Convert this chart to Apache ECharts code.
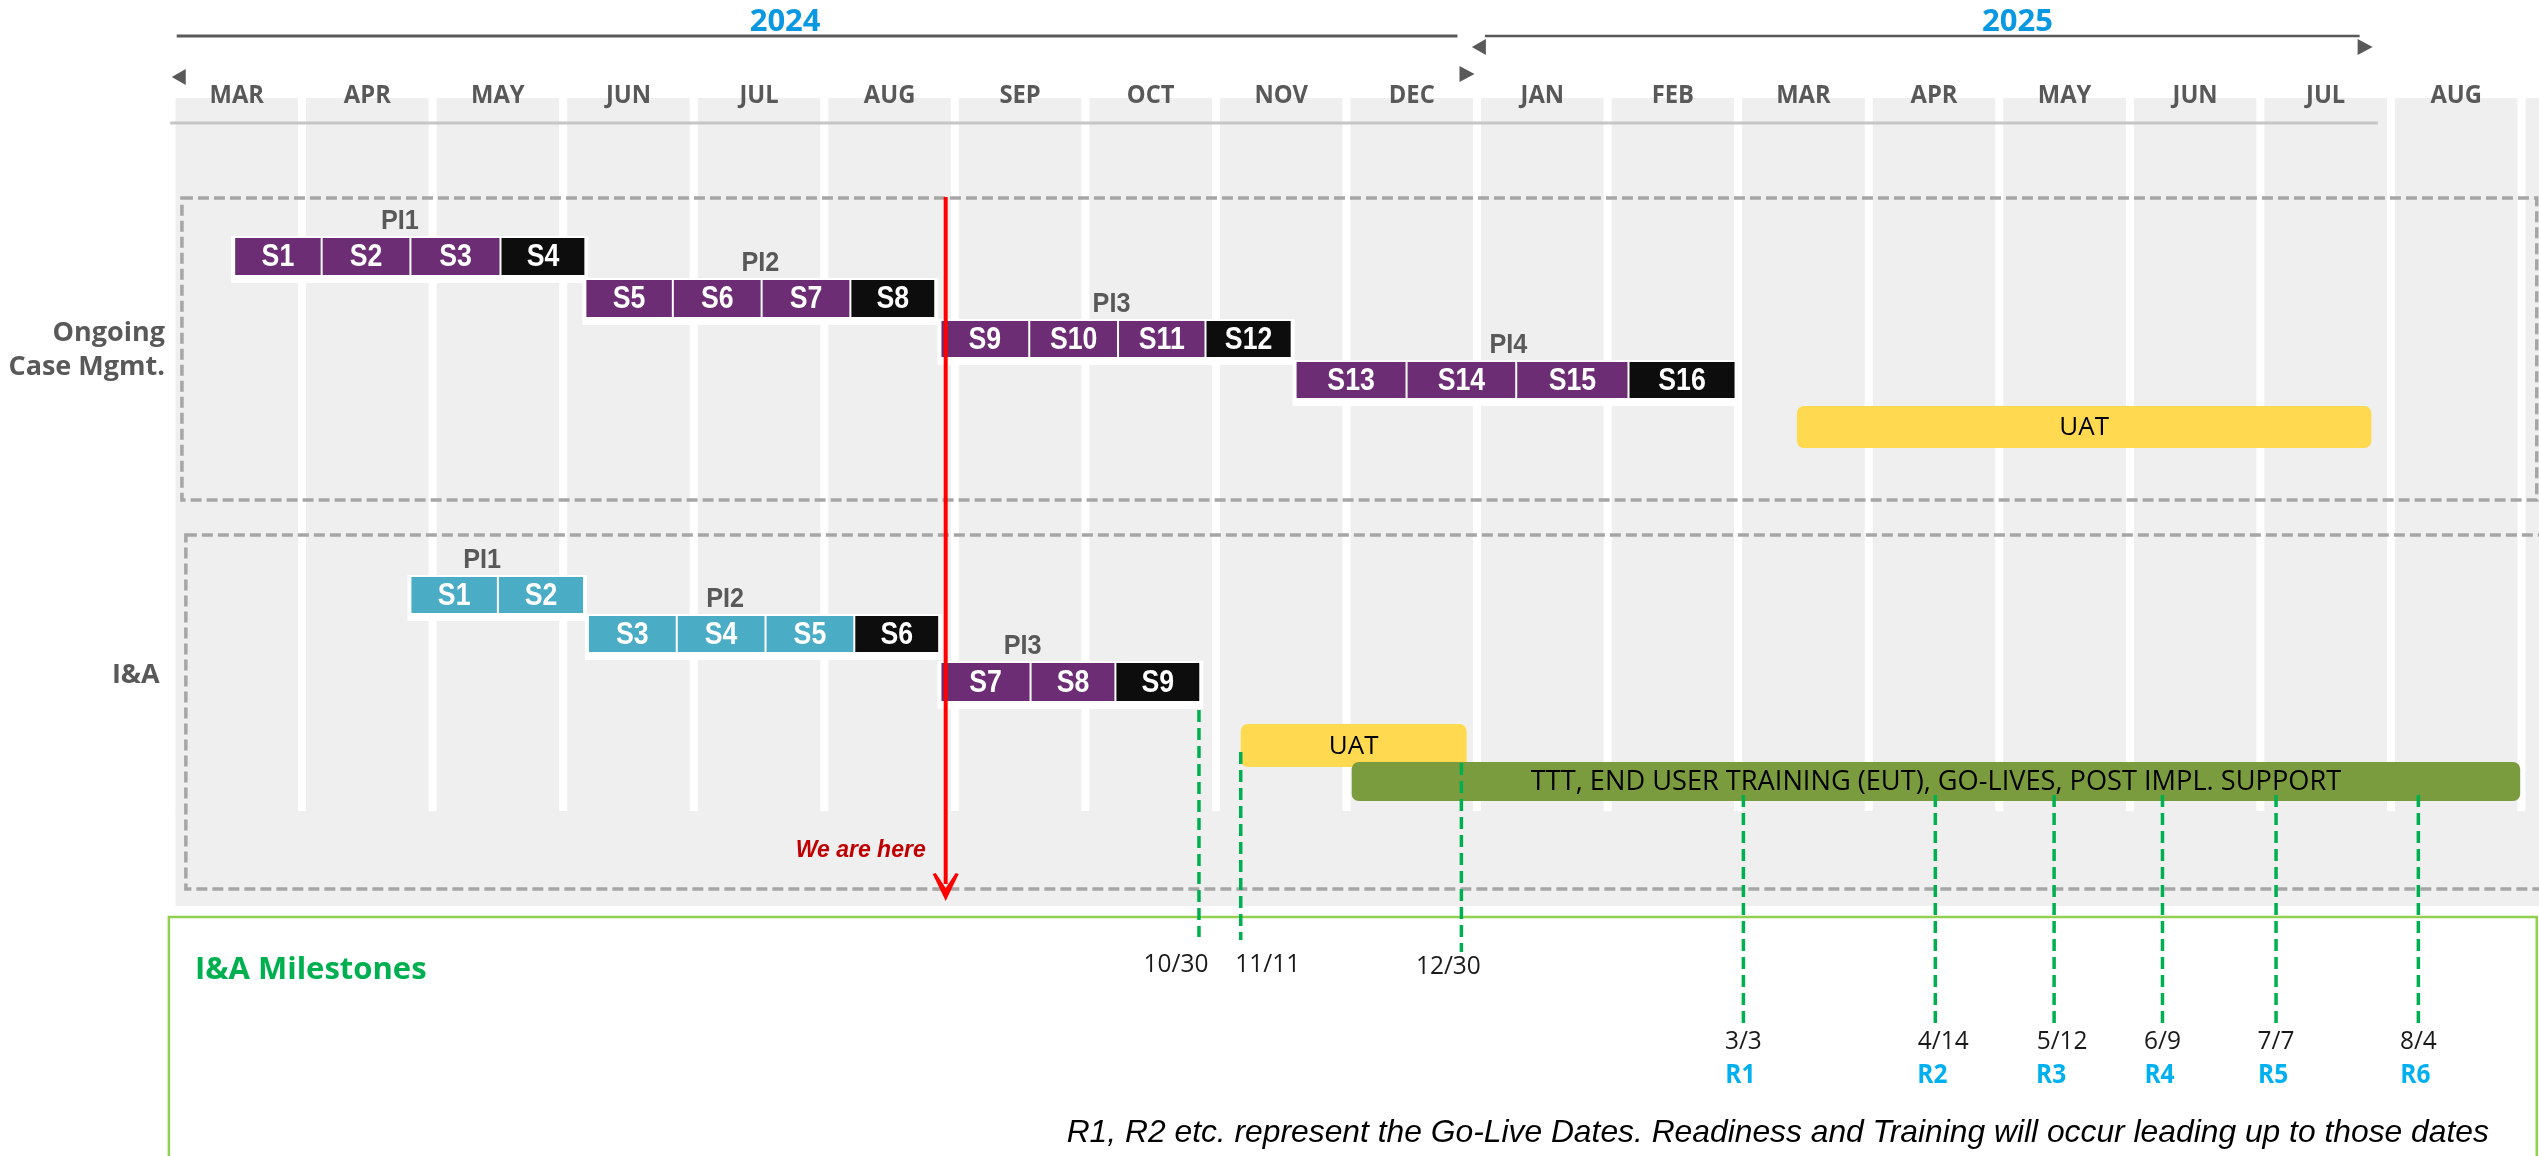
<!DOCTYPE html>
<html>
<head>
<meta charset="utf-8">
<title>Roadmap</title>
<script src="https://cdn.jsdelivr.net/npm/echarts@6/dist/echarts.min.js"></script>
<style>
    html, body { margin: 0; padding: 0; background: #fff; }
    #chart { width: 2539px; height: 1156px; }
</style>
</head>
<body>
<div id="chart"></div>
<script>
////////////////////////////////////////////
/////////////////  data  ///////////////////
////////////////////////////////////////////

// x values are in months, 0 = start of MAR 2024
const months = ['MAR', 'APR', 'MAY', 'JUN', 'JUL', 'AUG', 'SEP', 'OCT', 'NOV', 'DEC',
    'JAN', 'FEB', 'MAR', 'APR', 'MAY', 'JUN', 'JUL', 'AUG'];
const years = ['2024', '2025'];
const yearStart = [0.04, 10.06];
const yearEnd = [9.85, 16.76];
const yearLabelAt = [4.70, 14.14];

const rowLabels = ['Ongoing\nCase Mgmt.', 'I&A'];

// Ongoing Case Mgmt. sprints
const cmSprints = ['S1', 'S2', 'S3', 'S4', 'S5', 'S6', 'S7', 'S8', 'S9', 'S10', 'S11', 'S12', 'S13', 'S14', 'S15', 'S16'];
const cmStart = [0.48, 1.15, 1.83, 2.52, 3.17, 3.84, 4.52, 5.20, 5.89, 6.57, 7.25, 7.92, 8.61, 9.46, 10.30, 11.16];
const cmEnd = [1.15, 1.83, 2.52, 3.17, 3.84, 4.52, 5.20, 5.85, 6.57, 7.25, 7.92, 8.58, 9.46, 10.30, 11.16, 11.98];
const cmLane = [0, 0, 0, 0, 1, 1, 1, 1, 2, 2, 2, 2, 3, 3, 3, 3];
const cmKind = ['dev', 'dev', 'dev', 'ip', 'dev', 'dev', 'dev', 'ip', 'dev', 'dev', 'dev', 'ip', 'dev', 'dev', 'dev', 'ip'];
const cmPIs = ['PI1', 'PI2', 'PI3', 'PI4'];
const cmPIAt = [1.75, 4.51, 7.20, 10.24];
const cmPILane = [0, 1, 2, 3];

// I&A sprints
const iaSprints = ['S1', 'S2', 'S3', 'S4', 'S5', 'S6', 'S7', 'S8', 'S9'];
const iaStart = [1.83, 2.50, 3.19, 3.87, 4.55, 5.23, 5.89, 6.58, 7.23];
const iaEnd = [2.50, 3.16, 3.87, 4.55, 5.23, 5.88, 6.58, 7.23, 7.88];
const iaLane = [4, 4, 5, 5, 5, 5, 6, 6, 6];
const iaKind = ['ia', 'ia', 'ia', 'ia', 'ia', 'ip', 'dev', 'dev', 'ip'];
const iaPIs = ['PI1', 'PI2', 'PI3'];
const iaPIAt = [2.38, 4.24, 6.52];
const iaPILane = [4, 5, 6];

// longer phases
const phases = ['UAT', 'UAT', 'TTT, END USER TRAINING (EUT), GO-LIVES, POST IMPL. SUPPORT'];
const phaseStart = [12.45, 8.19, 9.04];
const phaseEnd = [16.85, 9.92, 17.99];
const phaseLane = [7, 8, 9];
const phaseKind = ['uat', 'uat', 'rollout'];

// I&A milestones
const milestoneDates = ['10/30', '11/11', '12/30', '3/3', '4/14', '5/12', '6/9', '7/7', '8/4'];
const milestoneAt = [7.87, 8.19, 9.88, 12.04, 13.51, 14.42, 15.25, 16.12, 17.21];
const releases = ['', '', '', 'R1', 'R2', 'R3', 'R4', 'R5', 'R6'];

const todayAt = 5.93;
const todayText = 'We are here';
const milestoneTitle = 'I&A Milestones';
const footnote = 'R1, R2 etc. represent the Go-Live Dates. Readiness and Training will occur leading up to those dates';

////////////////////////////////////////////
////////////////  layout  //////////////////
////////////////////////////////////////////

// y axis runs in page pixels (0 at top)
const laneTop = [238, 280, 321, 362, 577, 616, 663, 406, 724, 762];
const laneH = [37, 37, 36, 36, 36, 36, 38, 42, 43, 39];
const msTop = [710, 752, 763, 795, 795, 795, 795, 795, 795];
const msBottom = [937, 940, 952, 1023, 1023, 1023, 1023, 1023, 1023];
const msLabelY = [965, 965, 967, 1042, 1042, 1042, 1042, 1042, 1042];
const msLabelDx = [-23, 27, -13, 0, 8, 8, 0, 0, 0];

const GREY_BG = '#efefef';
const TEXT_GREY = '#595959';
const kindColor = { dev: '#6c2d75', ip: '#0d0d0d', ia: '#4bacc6', uat: '#ffd950', rollout: '#7b9c3e' };
const FONT_OS = '"Open Sans", "Noto Sans", sans-serif';
const FONT_AR = '"Liberation Sans", Arial, sans-serif';

function txt(text, x, y, font, fill, align, valign, sx) {
    return {
        type: 'text',
        x: x, y: y,
        scaleX: sx || 1,
        style: {
            text: text, x: 0, y: 0, font: font, fill: fill,
            align: align || 'center', verticalAlign: valign || 'middle',
            textAlign: align || 'center', textVerticalAlign: valign || 'middle'
        }
    };
}

////////////////////////////////////////////
/////////////  render items  ///////////////
////////////////////////////////////////////

function columnsItem(params, api) {
    const k = params.dataIndex;
    const a = api.coord([k, 98]);
    const b = api.coord([k + 1, 812]);
    const x0 = a[0] + 4;
    const x1 = k === months.length ? api.getWidth() + 10 : b[0] - 4;
    const children = [{ type: 'rect', shape: { x: x0, y: a[1], width: x1 - x0, height: b[1] - a[1] }, style: { fill: GREY_BG } }];
    if (k === 0) {
        const c = api.coord([0, 812]);
        const d = api.coord([0, 906]);
        children.push({ type: 'rect', shape: { x: c[0] + 4, y: c[1] - 1, width: api.getWidth(), height: d[1] - c[1] + 1 }, style: { fill: GREY_BG } });
    }
    return { type: 'group', children: children };
}

function headerItem(params, api) {
    const children = [];
    // bracket arrows, [dx from line end, y]
    const arrows = [
        { left: [-5, 77], right: [2, 74] },
        { left: [-13, 47], right: [-2, 47] }
    ];
    years.forEach((y, i) => {
        const a = api.coord([yearStart[i], 36]);
        const b = api.coord([yearEnd[i], 36]);
        children.push({ type: 'line', shape: { x1: a[0], y1: a[1], x2: b[0], y2: b[1] }, style: { stroke: TEXT_GREY, lineWidth: i === 0 ? 3 : 2.5 } });
        const t = api.coord([yearLabelAt[i], 22]);
        children.push(txt(y, t[0], t[1], 'bold 31px ' + FONT_OS, '#0a98e2'));
        const l = arrows[i].left, r = arrows[i].right;
        const lx = a[0] + l[0], rx = b[0] + r[0];
        children.push({ type: 'polygon', shape: { points: [[lx, l[1]], [lx + 14, l[1] - 8], [lx + 14, l[1] + 8]] }, style: { fill: TEXT_GREY } });
        children.push({ type: 'polygon', shape: { points: [[rx + 15, r[1]], [rx, r[1] - 8], [rx, r[1] + 8]] }, style: { fill: TEXT_GREY } });
    });
    // thin rule under the month names
    const h0 = api.coord([-0.01, 123]);
    const h1 = api.coord([16.9, 123]);
    children.push({ type: 'line', shape: { x1: h0[0], y1: h0[1], x2: h1[0], y2: h1[1] }, style: { stroke: '#c6c6c6', lineWidth: 3 } });
    months.forEach((m, k) => {
        const p = api.coord([k + 0.5, 96]);
        children.push(txt(m, p[0], p[1], 'bold 25px ' + FONT_OS, TEXT_GREY, 'center', 'middle', 0.95));
    });
    return { type: 'group', children: children };
}

function boxesItem(params, api) {
    const dashed = { stroke: '#a6a6a6', lineWidth: 3.5, lineDash: [11, 5], fill: null };
    const b1a = api.coord([0.08, 198]), b1b = api.coord([18.117, 500]);
    const b2a = api.coord([0.11, 535]), b2b = api.coord([18.2, 889]);
    const mA = api.coord([-0.02, 917]), mB = api.coord([18.117, 1200]);
    return {
        type: 'group',
        children: [
            { type: 'rect', shape: { x: b1a[0], y: b1a[1], width: b1b[0] - b1a[0], height: b1b[1] - b1a[1] }, style: dashed },
            { type: 'rect', shape: { x: b2a[0], y: b2a[1], width: b2b[0] - b2a[0], height: b2b[1] - b2a[1] }, style: dashed },
            { type: 'rect', shape: { x: mA[0], y: mA[1], width: mB[0] - mA[0], height: mB[1] - mA[1] }, style: { stroke: '#92d050', lineWidth: 2.5, fill: null } }
        ]
    };
}

const sprintList = [];
cmSprints.forEach((n, i) => sprintList.push({ name: n, start: cmStart[i], end: cmEnd[i], lane: cmLane[i], kind: cmKind[i] }));
iaSprints.forEach((n, i) => sprintList.push({ name: n, start: iaStart[i], end: iaEnd[i], lane: iaLane[i], kind: iaKind[i] }));

// white backing behind each lane of sprints
const laneGroups = [];
sprintList.forEach(s => {
    let g = laneGroups.find(g => g.lane === s.lane);
    if (!g) { g = { lane: s.lane, start: s.start, end: s.end }; laneGroups.push(g); }
    g.start = Math.min(g.start, s.start);
    g.end = Math.max(g.end, s.end);
});

function baseItem(params, api) {
    const g = laneGroups[params.dataIndex];
    const a = api.coord([g.start, laneTop[g.lane]]);
    const b = api.coord([g.end, laneTop[g.lane] + laneH[g.lane]]);
    return { type: 'rect', shape: { x: a[0] - 3, y: a[1] - 2, width: b[0] - a[0] + 6, height: b[1] - a[1] + 10 }, style: { fill: '#ffffff' } };
}

function sprintItem(params, api) {
    const s = sprintList[params.dataIndex];
    const a = api.coord([s.start, laneTop[s.lane]]);
    const b = api.coord([s.end, laneTop[s.lane] + laneH[s.lane]]);
    return {
        type: 'group',
        children: [
            { type: 'rect', shape: { x: a[0] + 1, y: a[1], width: b[0] - a[0] - 2, height: b[1] - a[1] }, style: { fill: kindColor[s.kind] } },
            txt(s.name, (a[0] + b[0]) / 2, (a[1] + b[1]) / 2 + 1, 'bold 31px ' + FONT_AR, '#ffffff', 'center', 'middle', 0.86)
        ]
    };
}

const piList = [];
cmPIs.forEach((n, i) => piList.push({ name: n, at: cmPIAt[i], lane: cmPILane[i] }));
iaPIs.forEach((n, i) => piList.push({ name: n, at: iaPIAt[i], lane: iaPILane[i] }));

function piItem(params, api) {
    const p = piList[params.dataIndex];
    const c = api.coord([p.at, laneTop[p.lane] - 17]);
    return txt(p.name, c[0], c[1], 'bold 28px ' + FONT_AR, TEXT_GREY, 'center', 'middle', 0.9);
}

function phaseItem(params, api) {
    const i = params.dataIndex;
    const lane = phaseLane[i];
    const a = api.coord([phaseStart[i], laneTop[lane]]);
    const b = api.coord([phaseEnd[i], laneTop[lane] + laneH[lane]]);
    return {
        type: 'group',
        children: [
            { type: 'rect', shape: { x: a[0], y: a[1], width: b[0] - a[0], height: b[1] - a[1], r: 7 }, style: { fill: kindColor[phaseKind[i]] } },
            txt(phases[i], (a[0] + b[0]) / 2, (a[1] + b[1]) / 2 + 1, (phaseKind[i] === 'uat' ? '26px ' : '27.2px ') + FONT_OS, '#000000')
        ]
    };
}

function milestoneItem(params, api) {
    const i = params.dataIndex;
    const t = api.coord([milestoneAt[i], msTop[i]]);
    const b = api.coord([milestoneAt[i], msBottom[i]]);
    const l = api.coord([milestoneAt[i], msLabelY[i]]);
    const children = [
        { type: 'line', shape: { x1: t[0], y1: t[1], x2: b[0], y2: b[1] }, style: { stroke: '#00b050', lineWidth: 3.5, lineDash: [12, 6] } },
        txt(milestoneDates[i], l[0] + msLabelDx[i], l[1], '26px ' + FONT_OS, '#1a1a1a', 'center', 'middle', 0.94)
    ];
    if (releases[i]) {
        const r = api.coord([milestoneAt[i], 1076]);
        children.push(txt(releases[i], r[0] - 3, r[1], 'bold 26px ' + FONT_OS, '#00b0f0', 'center', 'middle', 0.94));
    }
    return { type: 'group', children: children };
}

function todayItem(params, api) {
    const t = api.coord([todayAt, 197]);
    const b = api.coord([todayAt, 884]);
    const x = t[0];
    return {
        type: 'group',
        children: [
            { type: 'line', shape: { x1: x, y1: t[1], x2: x, y2: b[1] }, style: { stroke: '#ff0000', lineWidth: 4 } },
            { type: 'polygon', shape: { points: [[x, 901], [x - 13, 874], [x - 10, 873], [x, 888], [x + 10, 873], [x + 13, 874]] }, style: { fill: '#ff0000' } },
            txt(todayText, x - 20, 851, 'italic bold 23px ' + FONT_AR, '#c00000', 'right')
        ]
    };
}

function labelsItem(params, api) {
    const r1 = api.coord([-0.05, 333]);
    const lines = rowLabels[0].split('\n');
    const r2 = api.coord([-0.09, 675]);
    const mt = api.coord([0.18, 970]);
    const fn = api.coord([17.75, 1133]);
    return {
        type: 'group',
        children: [
            txt(lines[0], r1[0], r1[1], 'bold 27px ' + FONT_OS, TEXT_GREY, 'right'),
            txt(lines[1], r1[0], r1[1] + 34, 'bold 27px ' + FONT_OS, TEXT_GREY, 'right'),
            txt(rowLabels[1], r2[0], r2[1], 'bold 27px ' + FONT_OS, TEXT_GREY, 'right'),
            txt(milestoneTitle, mt[0], mt[1], 'bold 31px ' + FONT_OS, '#00b050', 'left'),
            txt(footnote, fn[0], fn[1], 'italic 31.8px ' + FONT_AR, '#000000', 'right')
        ]
    };
}

////////////////////////////////////////////
////////////////  chart  ///////////////////
////////////////////////////////////////////

const chart = echarts.init(document.getElementById('chart'), null, { renderer: 'canvas' });

function customSeries(name, z, data, renderItem) {
    return { name: name, type: 'custom', z: z, clip: false, silent: true, data: data, renderItem: renderItem };
}

const option = {
    backgroundColor: '#ffffff',
    animation: false,
    grid: { left: 171.5, right: 17.5, top: 0, bottom: 0 },
    xAxis: { type: 'value', min: 0, max: 18, show: false },
    yAxis: { type: 'value', min: 0, max: 1156, inverse: true, show: false },
    series: [
        customSeries('columns', 1, months.concat(['']).map((m, k) => [k + 0.5, 400]), columnsItem),
        customSeries('header', 2, [[0, 0]], headerItem),
        customSeries('boxes', 2, [[0, 0]], boxesItem),
        customSeries('base', 3, laneGroups.map(g => [g.start, laneTop[g.lane]]), baseItem),
        customSeries('sprints', 4, sprintList.map(s => [s.start, laneTop[s.lane]]), sprintItem),
        customSeries('pi', 4, piList.map(p => [p.at, laneTop[p.lane]]), piItem),
        customSeries('phases', 4, phases.map((p, i) => [phaseStart[i], laneTop[phaseLane[i]]]), phaseItem),
        customSeries('milestones', 5, milestoneAt.map((m, i) => [m, msTop[i]]), milestoneItem),
        customSeries('today', 6, [[todayAt, 197]], todayItem),
        customSeries('labels', 6, [[0, 0]], labelsItem)
    ]
};
chart.setOption(option);
</script>
</body>
</html>
